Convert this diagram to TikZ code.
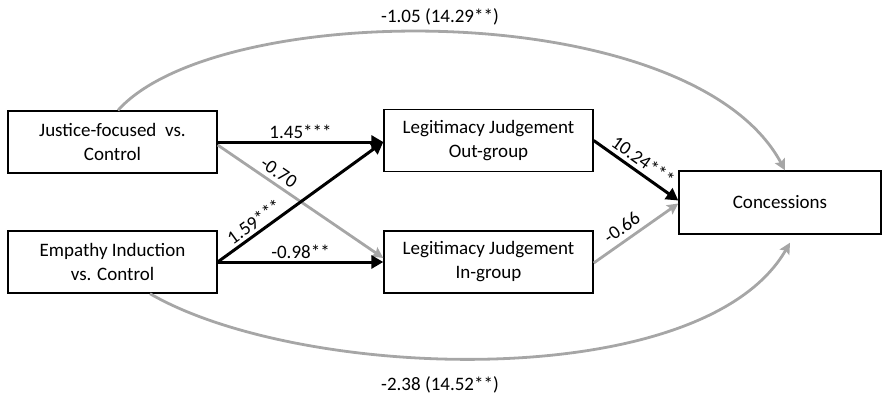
\documentclass[tikz,border=0pt]{standalone}
\usepackage{fontspec}
\setmainfont{Carlito}
\usetikzlibrary{arrows.meta}
\definecolor{gry}{RGB}{166,166,166}
\tikzset{
  box/.style={draw=black, line width=1.4pt, rectangle, minimum width=209pt, minimum height=62pt, align=center, inner sep=0pt, font=\fontsize{19}{24}\selectfont},
  blk/.style={draw=black, line width=3pt, -{Triangle[length=12pt,width=13pt]}},
  gra/.style={draw=gry, line width=2.8pt, -{Stealth[length=11pt,width=11pt,inset=2pt]}},
  lbl/.style={font=\fontsize{19}{22}\selectfont, inner sep=2pt, text=black},
}
\begin{document}
\begin{tikzpicture}[x=1pt,y=-1pt]
\useasboundingbox (0,0) rectangle (884,399);
\node[box] (J) at (112.5,142) {Justice-focused~ vs.\\Control};
\node[box] (E) at (112.5,262) {Empathy Induction\\vs. Control};
\node[box] (O) at (488.5,140.5) {Legitimacy Judgement\\Out-group};
\node[box] (I) at (488.5,262) {Legitimacy Judgement\\In-group};
\node[box, minimum width=202pt, minimum height=63pt] (C) at (780,202.5) {Concessions};

\draw[gra] ([yshift=-3pt]J.east) -- node[lbl, sloped, above, pos=0.33, inner sep=4pt] {-0.70} ([yshift=4pt]I.west);
\draw[blk] (J.east) -- node[lbl, above, midway] {1.45***} ([yshift=-1.5pt]O.west);
\draw[blk] (E.east) -- node[lbl, sloped, above, pos=0.26, inner sep=3pt] {1.59***} ([yshift=-1.5pt]O.west);
\draw[blk] (E.east) -- node[lbl, above, midway] {-0.98**} (I.west);
\draw[blk] (O.east) -- node[lbl, sloped, above, pos=0.5, inner sep=4pt] {10.24***} ([yshift=2pt]C.west);
\draw[gra] ([yshift=-1pt]I.east) -- node[lbl, sloped, above, pos=0.42, inner sep=5pt] {-0.66} ([yshift=-1pt]C.west);

\draw[gra] ([xshift=5.5pt]J.north) .. controls (218,-1.5) and (691,-4.6) .. ([xshift=5pt]C.north);
\draw[gra] ([xshift=37.5pt]E.south) .. controls (301.6,381.5) and (702.5,394.6) .. ([xshift=10pt,yshift=-8pt]C.south);

\node[lbl] (t1) at (440,17) {-1.05 (14.29**)};
\node[lbl] (t2) at (440,385) {-2.38 (14.52**)};
\end{tikzpicture}
\end{document}
